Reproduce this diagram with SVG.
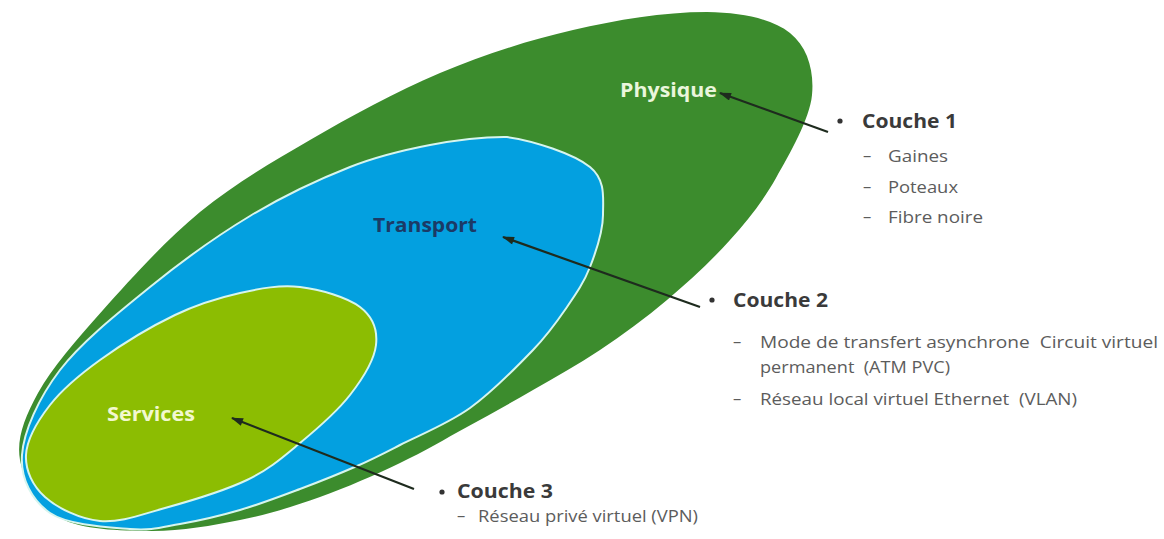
<svg xmlns="http://www.w3.org/2000/svg" width="1164" height="539" viewBox="0 0 1164 539">
<style>
.lbl{font-family:"Open Sans","Liberation Sans",sans-serif;font-weight:700;font-size:19px}
.head{font-family:"Open Sans","Liberation Sans",sans-serif;font-weight:700;font-size:20px;fill:#3a3a3a}
.sub{font-family:"Open Sans","Liberation Sans",sans-serif;font-size:16.5px;fill:#5c5c5c}
.arrow{fill:none;stroke:#1e2b1e;stroke-width:2.2}
.edge{stroke:#d6f5ee;stroke-width:2}
</style>
<defs>
<marker id="ah" viewBox="0 0 12 8" refX="11" refY="4" markerWidth="13" markerHeight="8" markerUnits="userSpaceOnUse" orient="auto">
<path d="M0,0 L12,4 L0,8 z" fill="#1e2b1e"/>
</marker>
</defs>
<rect width="1164" height="539" fill="#ffffff"/>
<g id="physique">
<path fill="#3c8c2d" d="M707,12 C743.17,12.5 772.5,19.17 790,33 C807.5,46.83 814.33,70.83 812,95 C809.67,119.17 789.67,153.83 776,178 C762.33,202.17 748.17,219.67 730,240 C711.83,260.33 688.67,281.67 667,300 C645.33,318.33 622.33,335 600,350 C577.67,365 555.17,377.17 533,390 C510.83,402.83 489.17,414.83 467,427 C444.83,439.17 424.5,451.33 400,463 C375.5,474.67 346.67,487.5 320,497 C293.33,506.5 268.33,514.33 240,520 C211.67,525.67 180,531.33 150,531 C120,530.67 81.67,529.83 60,518 C38.33,506.17 23.67,480.83 20,460 C16.33,439.17 24.17,418 38,393 C51.83,368 76,340.17 103,310 C130,279.83 165.5,240.33 200,212 C234.5,183.67 270,163.17 310,140 C350,116.83 396.17,91.33 440,73 C483.83,54.67 528.5,40.17 573,30 C617.5,19.83 662.5,12 707,12 Z"/>
<text class="lbl" x="620" y="97" fill="#eaf6dc" textLength="97" lengthAdjust="spacingAndGlyphs">Physique</text>
</g>
<g id="transport">
<path class="edge" fill="#03a0e0" d="M507,137 C533.67,140.67 574,154 590,167 C606,180 603,198.33 603,215 C603,231.67 596,251.67 590,267 C584,282.33 576.5,293.17 567,307 C557.5,320.83 549.17,333.17 533,350 C516.83,366.83 492.17,392.17 470,408 C447.83,423.83 418.83,435.33 400,445 C381.17,454.67 373.67,458.67 357,466 C340.33,473.33 319.5,481.67 300,489 C280.5,496.33 260,504.17 240,510 C220,515.83 198.33,520.83 180,524 C161.67,527.17 151.67,530.83 130,529 C108.33,527.17 68,525.33 50,513 C32,500.67 20.33,478.83 22,455 C23.67,431.17 38.67,398 60,370 C81.33,342 118.33,312.67 150,287 C181.67,261.33 216.67,236 250,216 C283.33,196 320,178.83 350,167 C380,155.17 403.83,150 430,145 C456.17,140 480.83,136.67 507,137 Z"/>
<text class="lbl" x="373" y="232" fill="#1b3a66" textLength="104" lengthAdjust="spacingAndGlyphs">Transport</text>
</g>
<g id="services">
<path class="edge" fill="#8cbd02" d="M300,287 C320,289.3 347.3,297.3 360,307 C372.7,316.7 377.7,330.3 376,345 C374.3,359.7 362.7,378.7 350,395 C337.3,411.3 317.2,428.8 300,443 C282.8,457.2 269.5,469.2 247,480 C224.5,490.8 189.5,501.2 165,508 C140.5,514.8 120,522.8 100,521 C80,519.2 57.3,508 45,497 C32.7,486 25.2,470.3 26,455 C26.8,439.7 37.7,420.8 50,405 C62.3,389.2 79.2,375 100,360 C120.8,345 151.7,326.2 175,315 C198.3,303.8 219.2,297.7 240,293 C260.8,288.3 280,284.7 300,287 Z"/>
<text class="lbl" x="107" y="421" fill="#f2f8cf" textLength="88" lengthAdjust="spacingAndGlyphs">Services</text>
</g>
<g id="connectors">
<line class="arrow" x1="828" y1="132" x2="720" y2="93" marker-end="url(#ah)"/>
<line class="arrow" x1="700" y1="307" x2="503" y2="237" marker-end="url(#ah)"/>
<line class="arrow" x1="414" y1="489" x2="232" y2="418" marker-end="url(#ah)"/>
</g>
<g id="couche1">
<circle cx="840" cy="121" r="2.6" fill="#333333"/>
<text class="head" x="862" y="128" textLength="95" lengthAdjust="spacingAndGlyphs">Couche 1</text>
<text class="sub" x="863" y="161">–</text>
<text class="sub" x="888" y="162" textLength="60" lengthAdjust="spacingAndGlyphs">Gaines</text>
<text class="sub" x="863" y="192">–</text>
<text class="sub" x="888" y="193" textLength="70" lengthAdjust="spacingAndGlyphs">Poteaux</text>
<text class="sub" x="863" y="222">–</text>
<text class="sub" x="888" y="223" textLength="95" lengthAdjust="spacingAndGlyphs">Fibre noire</text>
</g>
<g id="couche2">
<circle cx="712" cy="300" r="2.6" fill="#333333"/>
<text class="head" x="733" y="307" textLength="95" lengthAdjust="spacingAndGlyphs">Couche 2</text>
<text class="sub" x="733" y="347">–</text>
<text class="sub" x="760" y="348" xml:space="preserve" style="white-space:pre" textLength="398" lengthAdjust="spacingAndGlyphs">Mode de transfert asynchrone  Circuit virtuel</text>
<text class="sub" x="760" y="373" xml:space="preserve" style="white-space:pre" textLength="190" lengthAdjust="spacingAndGlyphs">permanent  (ATM PVC)</text>
<text class="sub" x="733" y="404">–</text>
<text class="sub" x="760" y="405" xml:space="preserve" style="white-space:pre" textLength="317" lengthAdjust="spacingAndGlyphs">Réseau local virtuel Ethernet  (VLAN)</text>
</g>
<g id="couche3">
<circle cx="442" cy="492" r="2.6" fill="#333333"/>
<text class="head" x="457" y="498" textLength="96" lengthAdjust="spacingAndGlyphs">Couche 3</text>
<text class="sub" x="457" y="521">–</text>
<text class="sub" x="478" y="522" textLength="220" lengthAdjust="spacingAndGlyphs">Réseau privé virtuel (VPN)</text>
</g>
</svg>
